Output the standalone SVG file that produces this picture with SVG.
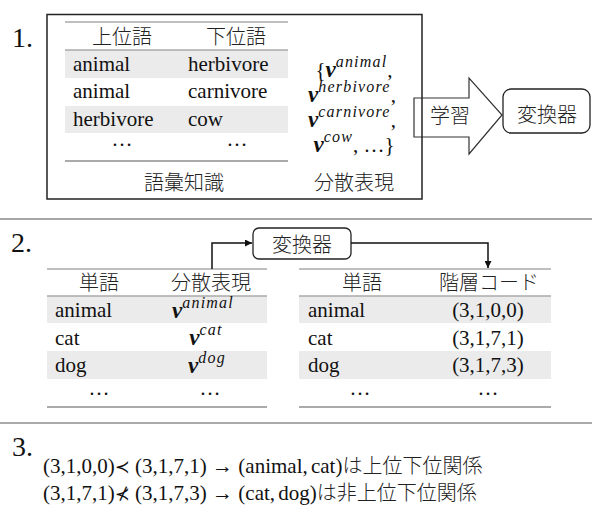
<svg xmlns="http://www.w3.org/2000/svg" width="592" height="514" viewBox="0 0 592 514">
<defs>
<style>
.t{font-family:'Liberation Serif','Times New Roman','DejaVu Serif',serif;font-size:21px;fill:#111}
.j{font-family:'Noto Sans CJK JP',sans-serif;font-size:20px;fill:#222;font-weight:300}
.num{font-family:'Liberation Serif','Times New Roman','DejaVu Serif',serif;font-size:28px;fill:#111}
.bv{font-weight:bold;font-style:italic;font-size:23px}
.sup{font-style:italic;font-size:16px;letter-spacing:1.2px}
.band{fill:#ebebeb}
.rule{stroke:#aaa;stroke-width:1.3;fill:none}
.rule2{stroke:#aaa;stroke-width:2;fill:none}
.box{fill:none;stroke:#222;stroke-width:1.5}
.rbox{fill:#fff;stroke:#222;stroke-width:1.3}
.sep{stroke:#888;stroke-width:1.5}
.conn{fill:none;stroke:#111;stroke-width:1.5}
.m3{font-family:'Liberation Serif','Times New Roman','DejaVu Serif',serif;font-size:21px;fill:#111}
.sym{font-family:'DejaVu Serif','DejaVu Sans',serif;font-size:18px}
</style>
<marker id="ah" viewBox="0 0 10 10" refX="10" refY="5" markerWidth="7" markerHeight="7" markerUnits="userSpaceOnUse" orient="auto">
<path d="M0,0 L10,5 L0,10 Z" fill="#111"/>
</marker>
</defs>
<rect width="592" height="514" fill="#fff"/>

<!-- Section 1 -->
<text class="num" x="12" y="47">1.</text>

<g id="lexicon-table">
<rect class="band" x="65" y="50" width="223" height="28"/>
<rect class="band" x="65" y="106" width="223" height="27"/>
<line class="rule" x1="65" y1="22" x2="288" y2="22"/>
<line class="rule" x1="65" y1="50" x2="288" y2="50"/>
<line class="rule2" x1="65" y1="161" x2="288" y2="161"/>
<text class="j" x="122" y="44" text-anchor="middle" font-size="21">上位語</text>
<text class="j" x="236" y="44" text-anchor="middle" font-size="21">下位語</text>
<text class="t" x="73" y="71">animal</text>
<text class="t" x="188" y="71">herbivore</text>
<text class="t" x="73" y="98">animal</text>
<text class="t" x="188" y="98">carnivore</text>
<text class="t" x="73" y="126">herbivore</text>
<text class="t" x="188" y="126">cow</text>
<text class="t" x="122" y="146" text-anchor="middle">…</text>
<text class="t" x="237" y="146" text-anchor="middle">…</text>
<text class="j" x="184" y="190" text-anchor="middle" font-size="21">語彙知識</text>
</g>

<g id="vector-set">
<text class="t" x="354" y="77" text-anchor="middle">{<tspan class="bv">v</tspan><tspan class="sup" dy="-10">animal</tspan><tspan dy="10">,</tspan></text>
<text class="t" x="352" y="102" text-anchor="middle"><tspan class="bv">v</tspan><tspan class="sup" dy="-10">herbivore</tspan><tspan dy="10">,</tspan></text>
<text class="t" x="352" y="127" text-anchor="middle"><tspan class="bv">v</tspan><tspan class="sup" dy="-10">carnivore</tspan><tspan dy="10">,</tspan></text>
<text class="t" x="354" y="152" text-anchor="middle"><tspan class="bv">v</tspan><tspan class="sup" dy="-10">cow</tspan><tspan dy="10">, …}</tspan></text>
<text class="j" x="354" y="190" text-anchor="middle" font-size="21">分散表現</text>
</g>

<g id="learn-arrow">
<polygon points="414,98 469,98 469,78 502,115 469,154 469,137 414,137" fill="#fff" stroke="#333" stroke-width="1.2"/>
<text class="j" x="450" y="123" text-anchor="middle">学習</text>
</g>

<g id="section1-box">
<rect class="box" x="47" y="14.5" width="375" height="184.5"/>
</g>

<g id="transformer-1">
<rect class="rbox" x="503" y="89" width="87" height="44" rx="8"/>
<text class="j" x="547" y="122" text-anchor="middle" font-size="21">変換器</text>
</g>

<line class="sep" x1="0" y1="219" x2="592" y2="219"/>

<!-- Section 2 -->
<text class="num" x="11" y="252">2.</text>

<g id="word-vector-table">
<rect class="band" x="47" y="296" width="220" height="27"/>
<rect class="band" x="47" y="351" width="220" height="28"/>
<line class="rule" x1="47" y1="269" x2="267" y2="269"/>
<line class="rule" x1="47" y1="296" x2="267" y2="296"/>
<line class="rule2" x1="47" y1="407" x2="267" y2="407"/>
<text class="j" x="99" y="290" text-anchor="middle" font-size="21">単語</text>
<text class="j" x="211" y="290" text-anchor="middle" font-size="21">分散表現</text>
<text class="t" x="55" y="317">animal</text>
<text class="t" x="55" y="345">cat</text>
<text class="t" x="55" y="372">dog</text>
<text class="t" x="203" y="318" text-anchor="middle"><tspan class="bv">v</tspan><tspan class="sup" dy="-10">animal</tspan></text>
<text class="t" x="206" y="345" text-anchor="middle"><tspan class="bv">v</tspan><tspan class="sup" dy="-10">cat</tspan></text>
<text class="t" x="207" y="373" text-anchor="middle"><tspan class="bv">v</tspan><tspan class="sup" dy="-10">dog</tspan></text>
<text class="t" x="99" y="395" text-anchor="middle">…</text>
<text class="t" x="210" y="395" text-anchor="middle">…</text>
</g>

<g id="transformer-2">
<rect class="rbox" x="253" y="228" width="98" height="31" rx="6"/>
<text class="j" x="302" y="252" text-anchor="middle" font-size="21">変換器</text>
</g>

<g id="word-code-table">
<rect class="band" x="299" y="296" width="252" height="27"/>
<rect class="band" x="299" y="351" width="252" height="28"/>
<line class="rule" x1="299" y1="269" x2="551" y2="269"/>
<line class="rule" x1="299" y1="296" x2="551" y2="296"/>
<line class="rule2" x1="299" y1="407" x2="551" y2="407"/>
<text class="j" x="362" y="290" text-anchor="middle" font-size="21">単語</text>
<text class="j" x="489" y="290" text-anchor="middle">階層コード</text>
<text class="t" x="308" y="317">animal</text>
<text class="t" x="308" y="345">cat</text>
<text class="t" x="308" y="372">dog</text>
<text class="t" x="488" y="317" text-anchor="middle">(3,1,0,0)</text>
<text class="t" x="488" y="345" text-anchor="middle">(3,1,7,1)</text>
<text class="t" x="488" y="372" text-anchor="middle">(3,1,7,3)</text>
<text class="t" x="360" y="395" text-anchor="middle">…</text>
<text class="t" x="488" y="395" text-anchor="middle">…</text>
</g>

<g id="connectors">
<path class="conn" d="M212,269 V243 H252" marker-end="url(#ah)"/>
<path class="conn" d="M351,243 H488 V268" marker-end="url(#ah)"/>
</g>

<line x1="0" y1="423" x2="592" y2="423" stroke="#aaa" stroke-width="2"/>

<!-- Section 3 -->
<text class="num" x="12" y="456" font-size="27">3.</text>
<g id="relations">
<text class="m3" x="43" y="473">(3,1,0,0)<tspan class="sym">≺</tspan> (3,1,7,1) → (animal,<tspan dx="-2"> cat)</tspan><tspan class="j" font-size="19">は上位下位関係</tspan></text>
<text class="m3" x="43" y="500">(3,1,7,1)<tspan class="sym">⊀</tspan> (3,1,7,3) → (cat,<tspan dx="-2"> dog)</tspan><tspan class="j" font-size="19">は非上位下位関係</tspan></text>
</g>
</svg>
